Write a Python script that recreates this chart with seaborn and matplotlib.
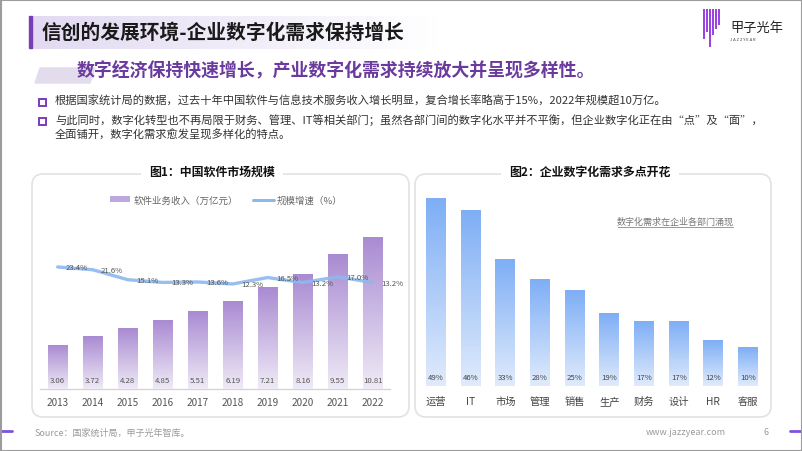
import numpy as np
import pandas as pd
import matplotlib
matplotlib.use("Agg")
import matplotlib.pyplot as plt
import seaborn as sns
from matplotlib.patches import FancyBboxPatch, Rectangle, Polygon, Patch
from matplotlib.lines import Line2D
from matplotlib.colors import to_rgb

# ---------------- data ----------------
years = ["2013", "2014", "2015", "2016", "2017", "2018", "2019", "2020", "2021", "2022"]
revenue = [3.06, 3.72, 4.28, 4.85, 5.51, 6.19, 7.21, 8.16, 9.55, 10.81]
growth = [23.4, 21.6, 15.1, 13.3, 13.6, 12.3, 16.5, 13.2, 17.0, 13.2]
depts = ["运营", "IT", "市场", "管理", "销售", "生产", "财务", "设计", "HR", "客服"]
dept_share = [49, 46, 33, 28, 25, 19, 17, 17, 12, 10]

title = "信创的发展环境-企业数字化需求保持增长"
subtitle = "数字经济保持快速增长，产业数字化需求持续放大并呈现多样性。"
bullets = [
    "根据国家统计局的数据，过去十年中国软件与信息技术服务收入增长明显，复合增长率略高于15%，2022年规模超10万亿。",
    "与此同时，数字化转型也不再局限于财务、管理、IT等相关部门；虽然各部门间的数字化水平并不平衡，但企业数字化正在由“点”及“面”，\n全面铺开，数字化需求愈发呈现多样化的特点。",
]
chart1_title = "图1：中国软件市场规模"
chart2_title = "图2：企业数字化需求多点开花"
legend_bar = "软件业务收入（万亿元）"
legend_line = "规模增速（%）"
note2 = "数字化需求在企业各部门涌现"
source = "Source：国家统计局，甲子光年智库。"
website = "www.jazzyear.com"
page = "6"

# ---------------- style ----------------
sns.set_theme(style="white")
plt.rcParams["font.family"] = ["Noto Sans CJK SC", "DejaVu Sans"]

W, H = 802, 452
fig = plt.figure(figsize=(W / 100, H / 100), dpi=100)

def fr(x0, y0, x1, y1):
    """pixel box -> figure rect"""
    return [x0 / W, 1 - y1 / H, (x1 - x0) / W, (y1 - y0) / H]

# background axes in pixel coordinates
bg = fig.add_axes([0, 0, 1, 1], zorder=0)
bg.set_xlim(0, W)
bg.set_ylim(H, 0)
bg.axis("off")

def hgrad(ax, extent, c, a0, a1, z=1):
    rgb = to_rgb(c)
    n = 256
    arr = np.zeros((1, n, 4))
    arr[..., :3] = rgb
    arr[0, :, 3] = np.linspace(a0, a1, n)
    ax.imshow(arr, extent=extent, aspect="auto", zorder=z, interpolation="bilinear")

# title band
hgrad(bg, (30, 440, 50, 17), "#d8cdee", 0.75, 0.0)
bg.add_patch(Rectangle((29, 17), 3.2, 32, color="#7a3db8", zorder=3))
bg.text(42, 33, title, fontsize=14.2, fontweight="bold", color="#1a1a1a",
        va="center", ha="left", zorder=4)

# logo
lx = [704, 707, 710, 713, 716, 719]
ly = [40, 33, 48, 36, 30, 26]
for x, yb in zip(lx, ly):
    bg.plot([x, x], [10, yb], color="#9a3fe0", lw=1.4, solid_capstyle="butt", zorder=3)
bg.text(730, 28, "甲子光年", fontsize=9.5, color="#222", va="center", ha="left", zorder=3)
bg.text(730, 40, "J A Z Z Y E A R", fontsize=3, color="#444", va="center", ha="left", zorder=3)

# subtitle
bg.add_patch(Polygon([[40, 69], [95, 69], [90, 84], [35, 84]], closed=True,
                     color="#e2dcec", zorder=1))
bg.text(77, 71, subtitle, fontsize=12.9, fontweight="bold", color="#6a3a9e",
        va="center", ha="left", zorder=3)

# bullets
for by, txt in zip([103, 122], bullets):
    bg.add_patch(Rectangle((39, by - 3.5), 7, 7, fill=False, ec="#7a3db8", lw=1.4, zorder=3))
    bg.text(55, by - 7.5, txt, fontsize=8.1, color="#333", va="top", ha="left",
            linespacing=1.35, zorder=3)

# panels
for (x0, x1, tx, ttl) in [(32, 409, 212, chart1_title), (415, 771, 590, chart2_title)]:
    bg.add_patch(FancyBboxPatch((x0, 175), x1 - x0, 243,
                                boxstyle="round,pad=0,rounding_size=11",
                                fc="white", ec="#e2e2e2", lw=1.2, zorder=1))
    bg.text(tx, 172, ttl, fontsize=8.6, fontweight="bold", color="#111",
            ha="center", va="center", zorder=3,
            bbox=dict(fc="white", ec="none", pad=6))

# footer
bg.plot([0, 12], [432, 432], color="#8050e0", lw=2, zorder=3)
bg.plot([790, 802], [432, 432], color="#8050e0", lw=2, zorder=3)
bg.text(35, 433, source, fontsize=6.5, color="#9a9a9a", va="center", ha="left")
bg.text(686, 433, website, fontsize=6.5, color="#9a9a9a", va="center", ha="center")
bg.text(766, 433, page, fontsize=6.5, color="#9a9a9a", va="center", ha="center")
bg.add_patch(Rectangle((0.5, 0.5), W - 1, H - 1, fill=False, ec="#9c9c9c", lw=1.5, zorder=5))

def gradient_bars(ax, top_c, bot_c, z=3):
    t = np.array(to_rgb(top_c))
    b = np.array(to_rgb(bot_c))
    n = 256
    f = np.linspace(0, 1, n)[:, None]
    arr = (t * (1 - f) + b * f)[:, None, :]
    for p in list(ax.patches):
        x, y = p.get_x(), p.get_y()
        w, h = p.get_width(), p.get_height()
        ax.imshow(arr, extent=(x, x + w, y, y + h), aspect="auto", zorder=z,
                  interpolation="bilinear", origin="upper")
        p.set_visible(False)

# ---------------- chart 1 ----------------
df1 = pd.DataFrame({"year": years, "revenue": revenue, "growth": growth})
ax1 = fig.add_axes(fr(40.2, 230, 390.2, 390), zorder=2)
ax1.set_facecolor("none")
sns.barplot(data=df1, x="year", y="revenue", ax=ax1, width=0.57,
            color="#b49ad8", saturation=1)
gradient_bars(ax1, "#a98bd2", "#efeaf6")
ax1.set_xlim(-0.5, 9.5)
ax1.set_ylim(0, 160 / 14.06)
for i, v in enumerate(revenue):
    ax1.annotate(f"{v:.2f}", xy=(i, 0), xytext=(0, 6.5), textcoords="offset points",
                 ha="center", va="center", fontsize=5.6, color="#555", zorder=6)
ax1.set_xlabel("")
ax1.set_ylabel("")
ax1.set_yticks([])
ax1.tick_params(axis="x", length=0, pad=6, labelsize=7.2, labelcolor="#555")
for s in ["top", "left", "right"]:
    ax1.spines[s].set_visible(False)
ax1.spines["bottom"].set_color("#d5d5d5")
ax1.spines["bottom"].set_linewidth(1.0)

ax1b = ax1.twinx()
ax1b.set_facecolor("none")
sns.lineplot(x=np.arange(len(years)), y=growth, ax=ax1b, color="#8db8ee",
             lw=2.4, alpha=0.9, zorder=4)
ax1b.set_ylim(-56.3, 48.2)
ax1b.set_xlim(-0.5, 9.5)
ax1b.axis("off")
for i, g in enumerate(growth):
    ax1b.annotate(f"{g:.1f}%", xy=(i, g), xytext=(14, 0), textcoords="offset points",
                  ha="center", va="center", fontsize=5.6, color="#555", zorder=6)

# legend for chart 1
handles = [Patch(facecolor="#bca8dc", edgecolor="none"),
           Line2D([0], [0], color="#8db8ee", lw=2.2)]
fig.legend(handles, [legend_bar, legend_line], loc="center",
           bbox_to_anchor=(226 / W, 1 - 201 / H), ncol=2, frameon=False,
           fontsize=6.8, labelcolor="#666", handlelength=2.2, handleheight=0.6,
           columnspacing=1.6, handletextpad=0.3)

# ---------------- chart 2 ----------------
df2 = pd.DataFrame({"dept": depts, "share": dept_share})
ax2 = fig.add_axes(fr(418.7, 190, 765.3, 387), zorder=2)
ax2.set_facecolor("none")
sns.barplot(data=df2, x="dept", y="share", ax=ax2, width=0.577,
            color="#8fb9f4", saturation=1)
gradient_bars(ax2, "#7eaef5", "#e0ebfc")
ax2.set_xlim(-0.5, 9.5)
ax2.set_ylim(0, 197 / 3.82)
for i, v in enumerate(dept_share):
    ax2.annotate(f"{v}%", xy=(i, 0), xytext=(0, 6.5), textcoords="offset points",
                 ha="center", va="center", fontsize=5.6, color="#444", zorder=6)
ax2.set_xlabel("")
ax2.set_ylabel("")
ax2.set_yticks([])
ax2.tick_params(axis="x", length=0, pad=7, labelsize=7.4, labelcolor="#444")
for s in ["top", "left", "right", "bottom"]:
    ax2.spines[s].set_visible(False)

bg.text(675, 222, note2, fontsize=6.5, color="#777", ha="center", va="center", zorder=3)
bg.plot([618, 733], [228, 228], color="#999", lw=0.7, zorder=3)

fig.savefig("out.png", dpi=100)
